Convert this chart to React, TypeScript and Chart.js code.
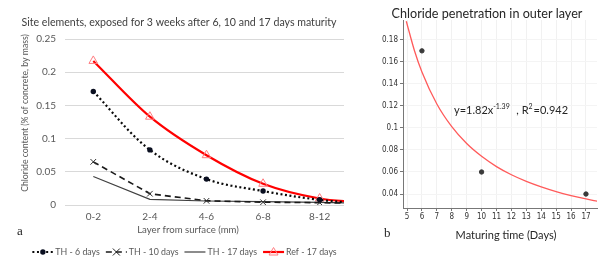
import React, { useEffect, useRef } from 'react';
import { Chart, registerables } from 'chart.js';

Chart.register(...registerables);

// ---------- Chart a: chloride profiles ----------
const layerCategories = ['0-2', '2-4', '4-6', '6-8', '8-12', '12+'];
const shownLayerIdx = [0, 1, 2, 3, 4];
const th6Days = [0.171, 0.083, 0.039, 0.021, 0.0078, 0.0008];
const th10Days = [0.065, 0.017, 0.0063, 0.0042, 0.0035, 0.002];
const th17Days = [0.043, 0.0086, 0.006, 0.005, 0.004, 0.002];
const ref17Days = [0.217, 0.133, 0.075, 0.032, 0.0098, 0.0022];
const leftYTicks = [0, 0.05, 0.1, 0.15, 0.2, 0.25];

// ---------- Chart b: outer layer vs maturing time ----------
const maturingDays = [6, 10, 17];
const outerChloride = [0.17, 0.06, 0.04];
const fitDays = [4.95, 5.5, 6, 7, 8, 9, 10, 11, 12, 13, 14, 15, 16, 17, 17.8];
const fitChloride = [0.1969, 0.1701, 0.1508, 0.1217, 0.1011, 0.0858, 0.0742, 0.0649, 0.0575, 0.0515, 0.0465, 0.0422, 0.0386, 0.0355, 0.0333];
const rightXTicks = [5, 6, 7, 8, 9, 10, 11, 12, 13, 14, 15, 16, 17];
const rightYTicks = [0.04, 0.06, 0.08, 0.1, 0.12, 0.14, 0.16, 0.18];

const FONT = 'Lato, "Open Sans", sans-serif';
const NARROW = '"Liberation Sans Narrow", "DejaVu Sans Condensed", "Liberation Sans", sans-serif';

function fmt(v: number) {
  return String(Number(v.toFixed(3)));
}

function drawMarker(ctx: CanvasRenderingContext2D, kind: string, x: number, y: number) {
  ctx.save();
  ctx.setLineDash([]);
  if (kind === 'circle') {
    ctx.fillStyle = '#0a0f20';
    ctx.beginPath();
    ctx.arc(x, y, 2.7, 0, Math.PI * 2);
    ctx.fill();
  } else if (kind === 'cross') {
    ctx.strokeStyle = '#222';
    ctx.lineWidth = 1;
    ctx.beginPath();
    ctx.moveTo(x - 3.5, y - 3.5);
    ctx.lineTo(x + 3.5, y + 3.5);
    ctx.moveTo(x + 3.5, y - 3.5);
    ctx.lineTo(x - 3.5, y + 3.5);
    ctx.stroke();
  } else if (kind === 'triangle') {
    ctx.strokeStyle = '#ff7c80';
    ctx.lineWidth = 1;
    ctx.beginPath();
    ctx.moveTo(x, y - 4.5);
    ctx.lineTo(x + 4.5, y + 3);
    ctx.lineTo(x - 4.5, y + 3);
    ctx.closePath();
    ctx.stroke();
  }
  ctx.restore();
}

const leftTextPlugin = {
  id: 'leftText',
  afterDraw(chart: any) {
    const ctx: CanvasRenderingContext2D = chart.ctx;
    ctx.save();
    ctx.textBaseline = 'middle';
    // title
    ctx.fillStyle = '#404040';
    ctx.font = `10.6px ${FONT}`;
    ctx.textAlign = 'center';
    ctx.fillText('Site elements, exposed for 3 weeks after 6, 10 and 17 days maturity', 179, 23);
    // x title
    ctx.fillStyle = '#595959';
    ctx.font = `9.6px ${FONT}`;
    ctx.fillText('Layer from surface (mm)', 188, 230);
    // y title
    ctx.save();
    ctx.translate(25, 113);
    ctx.rotate(-Math.PI / 2);
    ctx.font = `8.7px ${FONT}`;
    ctx.fillText('Chloride content (% of concrete, by mass)', 0, 0);
    ctx.restore();
    // panel letter
    ctx.fillStyle = '#222';
    ctx.font = '13px "Liberation Serif", "DejaVu Serif", serif';
    ctx.textAlign = 'left';
    ctx.fillText('a', 17, 232);
    // legend
    ctx.font = `8.8px ${FONT}`;
    ctx.fillStyle = '#595959';
    const items = chart.data.datasets.map((d: any) => d);
    const sampleW = 21;
    const gapST = 2;
    const gapItem = 6;
    const widths = items.map((d: any) => ctx.measureText(d.label).width);
    const total = widths.reduce((a: number, w: number) => a + sampleW + gapST + w, 0) + gapItem * (items.length - 1);
    let x = 184.5 - total / 2;
    const y = 252;
    items.forEach((d: any, i: number) => {
      ctx.save();
      ctx.strokeStyle = d.borderColor;
      ctx.lineWidth = d.borderWidth;
      ctx.setLineDash(d.borderDash || []);
      ctx.beginPath();
      ctx.moveTo(x, y);
      ctx.lineTo(x + sampleW, y);
      ctx.stroke();
      ctx.restore();
      drawMarker(ctx, d.legendMarker, x + sampleW / 2, y);
      ctx.fillStyle = '#595959';
      ctx.textAlign = 'left';
      ctx.fillText(d.label, x + sampleW + gapST, y);
      x += sampleW + gapST + widths[i] + gapItem;
    });
    ctx.restore();
  },
};

const rightTextPlugin = {
  id: 'rightText',
  afterDraw(chart: any) {
    const ctx: CanvasRenderingContext2D = chart.ctx;
    ctx.save();
    ctx.textBaseline = 'middle';
    ctx.fillStyle = '#262626';
    ctx.font = `12.6px ${FONT}`;
    ctx.textAlign = 'center';
    ctx.fillText('Chloride penetration in outer layer', 107, 14);
    ctx.font = `11px ${FONT}`;
    ctx.fillText('Maturing time (Days)', 126, 235);
    ctx.font = '13px "Liberation Serif", "DejaVu Serif", serif';
    ctx.textAlign = 'left';
    ctx.fillText('b', 4, 234);
    // equation
    ctx.textBaseline = 'alphabetic';
    const base = 114;
    let x = 74;
    const big = `11px ${FONT}`;
    const small = `7px ${FONT}`;
    const parts: [string, boolean][] = [
      ['y=1.82x', false],
      ['-1.39', true],
      ['  , R', false],
      ['2', true],
      ['=0.942', false],
    ];
    parts.forEach(([t, sup]) => {
      ctx.font = sup ? small : big;
      ctx.fillText(t, x, sup ? base - 5 : base);
      x += ctx.measureText(t).width + (sup ? 1 : 0);
    });
    ctx.restore();
  },
};

function LeftChart() {
  const ref = useRef<HTMLCanvasElement>(null);
  useEffect(() => {
    const mk = (arr: number[]) => arr.map((v, i) => ({ x: i, y: v }));
    const chart = new Chart(ref.current!, {
      type: 'line',
      data: {
        datasets: [
          {
            label: 'TH - 6 days',
            data: mk(th6Days),
            borderColor: '#0a0a0a',
            borderWidth: 2.2,
            borderDash: [2, 2.6],
            tension: 0.35,
            pointStyle: 'circle',
            pointRadius: [2.7, 2.7, 2.7, 2.7, 2.7, 0],
            pointBorderWidth: 0,
            pointBackgroundColor: '#0a0f20',
            pointBorderColor: '#0a0f20',
            legendMarker: 'circle',
          } as any,
          {
            label: 'TH - 10 days',
            data: mk(th10Days),
            borderColor: '#1a1a1a',
            borderWidth: 1.6,
            borderDash: [6, 4],
            tension: 0,
            pointStyle: 'crossRot',
            pointRadius: [4, 4, 4, 4, 4, 0],
            pointBorderColor: '#333',
            pointBorderWidth: 1,
            legendMarker: 'cross',
          } as any,
          {
            label: 'TH - 17 days',
            data: mk(th17Days),
            borderColor: '#404040',
            borderWidth: 1.2,
            tension: 0,
            pointRadius: 0,
            legendMarker: 'none',
          } as any,
          {
            label: 'Ref - 17 days',
            data: mk(ref17Days),
            borderColor: '#ff0000',
            borderWidth: 2.2,
            tension: 0.3,
            pointStyle: 'triangle',
            pointRadius: [5, 5, 5, 5, 5, 0],
            pointBorderColor: '#ff7c80',
            pointBackgroundColor: 'rgba(0,0,0,0)',
            pointBorderWidth: 1,
            legendMarker: 'triangle',
          } as any,
        ],
      },
      options: {
        responsive: false,
        animation: false,
        devicePixelRatio: 1,
        layout: { padding: { top: 39, right: 36, bottom: 32, left: 0 } },
        plugins: { legend: { display: false }, title: { display: false }, tooltip: { enabled: false } },
        scales: {
          x: {
            type: 'linear',
            min: -0.5,
            max: 4.43,
            afterBuildTicks: (s: any) => {
              s.ticks = shownLayerIdx.map((v) => ({ value: v }));
            },
            afterFit: (s: any) => {
              s.height = 25;
            },
            grid: { display: false, drawTicks: false },
            border: { display: false },
            ticks: {
              padding: 6,
              autoSkip: false,
              maxRotation: 0,
              color: '#595959',
              font: { family: FONT, size: 10 },
              callback: (v: any) => layerCategories[v],
            },
          },
          y: {
            min: 0,
            max: 0.25,
            afterBuildTicks: (s: any) => {
              s.ticks = leftYTicks.map((v) => ({ value: v }));
            },
            afterFit: (s: any) => {
              s.width = 65;
            },
            grid: { color: '#d9d9d9', drawTicks: false },
            border: { display: false },
            ticks: {
              padding: 9,
              color: '#595959',
              font: { family: FONT, size: 10 },
              callback: (v: any) => fmt(v),
            },
          },
        },
      },
      plugins: [leftTextPlugin],
    });
    return () => chart.destroy();
  }, []);
  return <canvas ref={ref} width={380} height={262} style={{ position: 'absolute', left: 0, top: 0 }} />;
}

function RightChart() {
  const ref = useRef<HTMLCanvasElement>(null);
  useEffect(() => {
    const chart = new Chart(ref.current!, {
      type: 'scatter',
      data: {
        datasets: [
          {
            label: 'Fit',
            data: fitDays.map((d, i) => ({ x: d, y: fitChloride[i] })),
            showLine: true,
            borderColor: '#ff5a5a',
            borderWidth: 1.3,
            pointRadius: 0,
            tension: 0.4,
            cubicInterpolationMode: 'monotone',
          } as any,
          {
            label: 'Outer layer',
            data: maturingDays.map((d, i) => ({ x: d, y: outerChloride[i] })),
            pointRadius: 2.2,
            pointBackgroundColor: '#3a3a3a',
            pointBorderColor: '#3a3a3a',
            showLine: false,
          } as any,
        ],
      },
      options: {
        responsive: false,
        animation: false,
        devicePixelRatio: 1,
        layout: { padding: { top: 20, right: 13, bottom: 29, left: 0 } },
        plugins: { legend: { display: false }, title: { display: false }, tooltip: { enabled: false } },
        scales: {
          x: {
            type: 'linear',
            min: 4.73,
            max: 17.74,
            afterBuildTicks: (s: any) => {
              s.ticks = rightXTicks.map((v) => ({ value: v }));
            },
            afterFit: (s: any) => {
              s.height = 25;
            },
            grid: { color: '#f1f1f1', drawTicks: true, tickLength: 3, tickColor: '#777' },
            border: { display: true, color: '#777', width: 1 },
            ticks: {
              padding: 1,
              autoSkip: false,
              maxRotation: 0,
              color: '#333',
              font: { family: NARROW, size: 8 },
              callback: (v: any) => String(v),
            },
          },
          y: {
            min: 0.0273,
            max: 0.198,
            afterBuildTicks: (s: any) => {
              s.ticks = rightYTicks.map((v) => ({ value: v }));
            },
            afterFit: (s: any) => {
              s.width = 23;
            },
            grid: { color: '#f4f4f4', drawTicks: true, tickLength: 3, tickColor: '#777' },
            border: { display: true, color: '#777', width: 1 },
            ticks: {
              padding: 2,
              color: '#333',
              font: { family: NARROW, size: 8 },
              callback: (v: any) => fmt(v),
            },
          },
        },
      },
      plugins: [rightTextPlugin],
    });
    return () => chart.destroy();
  }, []);
  return <canvas ref={ref} width={230} height={262} style={{ position: 'absolute', left: 380, top: 0 }} />;
}

export default function App() {
  return (
    <div style={{ position: 'fixed', left: 0, top: 0, width: 610, height: 262, background: '#fff', overflow: 'hidden' }}>
      <LeftChart />
      <RightChart />
    </div>
  );
}
